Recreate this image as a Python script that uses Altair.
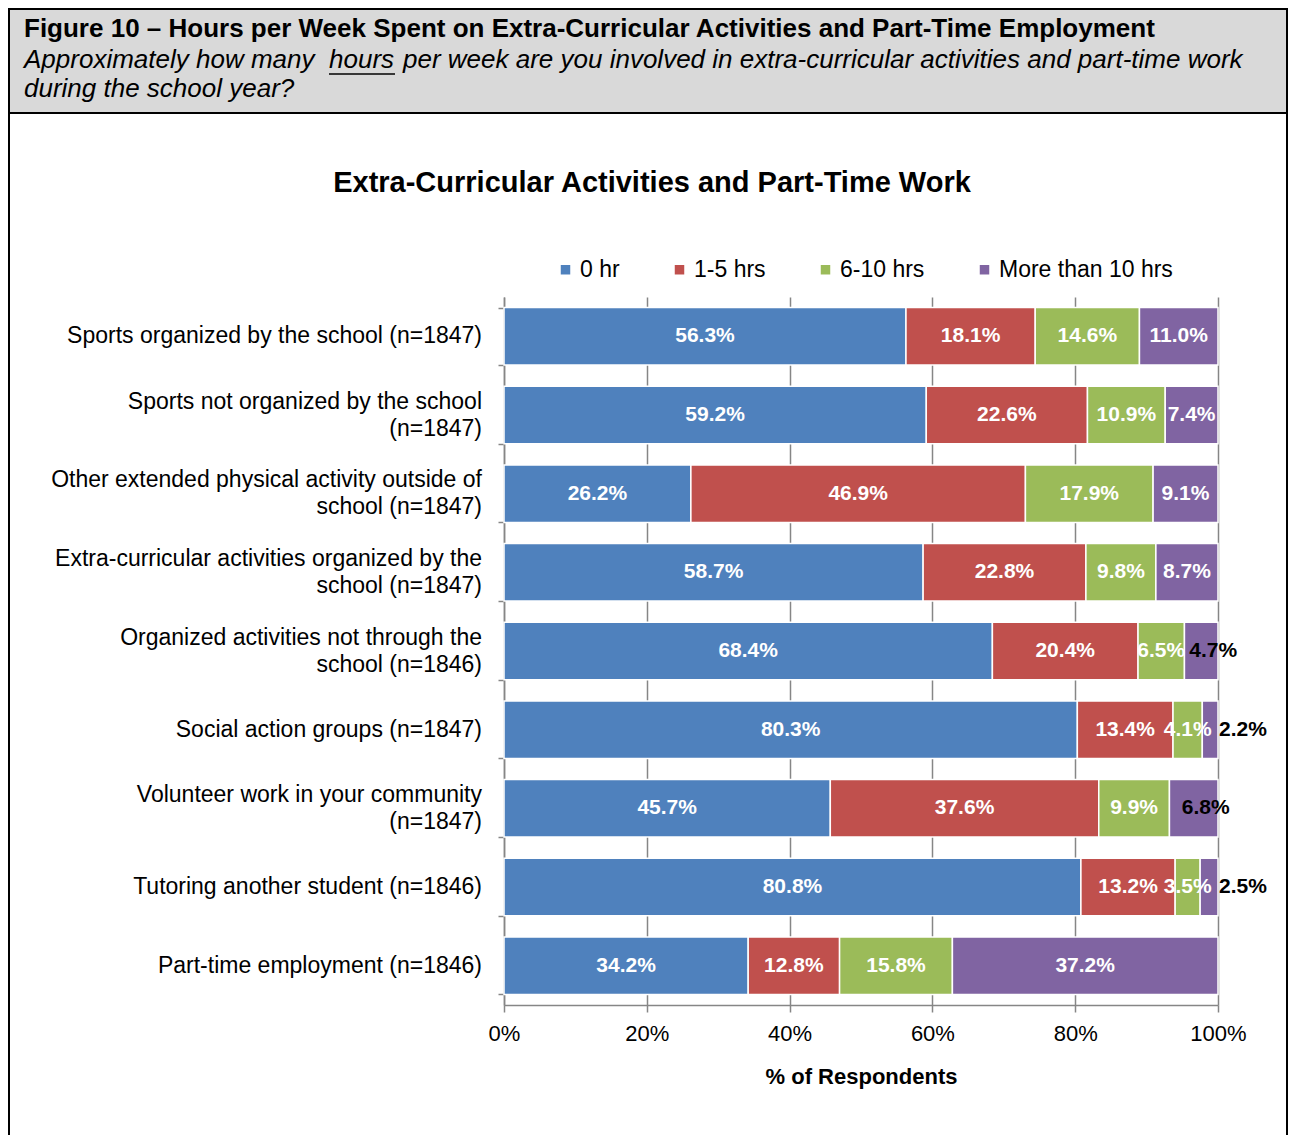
import altair as alt
import pandas as pd

# ---------------- data ----------------
categories = [
    "Sports organized by the school (n=1847)",
    "Sports not organized by the school|(n=1847)",
    "Other extended physical activity outside of|school (n=1847)",
    "Extra-curricular activities organized by the|school (n=1847)",
    "Organized activities not through the|school (n=1846)",
    "Social action groups (n=1847)",
    "Volunteer work in your community|(n=1847)",
    "Tutoring another student (n=1846)",
    "Part-time employment (n=1846)",
]
series = ["0 hr", "1-5 hrs", "6-10 hrs", "More than 10 hrs"]
zero_hr = [56.3, 59.2, 26.2, 58.7, 68.4, 80.3, 45.7, 80.8, 34.2]
one_five = [18.1, 22.6, 46.9, 22.8, 20.4, 13.4, 37.6, 13.2, 12.8]
six_ten = [14.6, 10.9, 17.9, 9.8, 6.5, 4.1, 9.9, 3.5, 15.8]
more_ten = [11.0, 7.4, 9.1, 8.7, 4.7, 2.2, 6.8, 2.5, 37.2]
colors = ["#4F81BD", "#C0504D", "#9BBB59", "#8064A2"]

values = [zero_hr, one_five, six_ten, more_ten]

rows = []
for ci, cat in enumerate(categories):
    total = sum(v[ci] for v in values)
    cum = 0.0
    for si, s in enumerate(series):
        v = values[si][ci]
        start = cum / total
        cum += v
        end = cum / total
        if si == 3 and v < 3:
            kind = "end"
        elif si == 3 and v < 7:
            kind = "dark"
        else:
            kind = "in"
        rows.append({"cat": cat, "series": s, "order": si, "value": v,
                     "mid": (start + end) / 2, "end": end,
                     "label": f"{v:.1f}%", "kind": kind})
df = pd.DataFrame(rows)
cat_df = pd.DataFrame({"cat": categories,
                       "lines": [c.count("|") + 1 for c in categories]})

FONT = "Liberation Sans"
XTITLE = "% of Respondents"

# --------------- decorations ---------------
one = pd.DataFrame({"a": [0]})
header_box = alt.Chart(one).mark_rect(fill="#D9D9D9", stroke="black", strokeWidth=2).encode(
    x=alt.value(-495), x2=alt.value(783), y=alt.value(-288), y2=alt.value(-184))
outer_box = alt.Chart(one).mark_rect(fill=None, fillOpacity=0, stroke="black", strokeWidth=2).encode(
    x=alt.value(-495), x2=alt.value(783), y=alt.value(-184), y2=alt.value(870))


def txt(s, x, y, size, weight="normal", style="normal", align="left"):
    return alt.Chart(pd.DataFrame({"t": [s]})).mark_text(
        align=align, baseline="middle", fontSize=size, fontWeight=weight,
        fontStyle=style, font=FONT, color="black").encode(
        text="t:N", x=alt.value(x), y=alt.value(y))


fig_title = txt("Figure 10 \u2013 Hours per Week Spent on Extra-Curricular Activities and Part-Time Employment",
                -480, -268, 26, weight="bold")
sub1a = txt("Approximately how many", -480, -237, 26, style="italic")
sub1b = txt("hours", -175, -237, 26, style="italic")
sub1c = txt("per week are you involved in extra-curricular activities and part-time work", -101, -237, 26, style="italic")
sub2 = txt("during the school year?", -480, -208, 26, style="italic")
underline = alt.Chart(one).mark_rule(color="black", strokeWidth=1.5).encode(
    x=alt.value(-175), x2=alt.value(-109), y=alt.value(-223))
chart_title = txt("Extra-Curricular Activities and Part-Time Work", 148, -114, 29,
                  weight="bold", align="center")

# --------------- chart ---------------
y_axis = alt.Axis(labels=False, ticks=True, tickBand="extent", tickSize=6,
                  tickColor="#868686", tickWidth=1.5,
                  domainColor="#868686", domainWidth=1.5)
y_scale = alt.Scale(paddingInner=0.27, paddingOuter=0.135)

x_axis = alt.Axis(format=".0%", values=[0, 0.2, 0.4, 0.6, 0.8, 1.0],
                  labelFontSize=22, labelPadding=11, labelColor="black",
                  labelFlush=False,
                  tickColor="#868686", tickSize=7, tickWidth=1.5,
                  domainColor="#868686", domainWidth=1.5,
                  grid=True, gridColor="#868686", gridWidth=1.5,
                  titleFontSize=22, titleFontWeight="bold", titlePadding=22,
                  titleColor="black", labelFont=FONT, titleFont=FONT)
x_scale = alt.Scale(domain=[0, 1], nice=False)

bars = alt.Chart(df).mark_bar(stroke="white", strokeWidth=1.5).encode(
    x=alt.X("value:Q", stack="normalize", title=XTITLE, scale=x_scale, axis=x_axis),
    y=alt.Y("cat:N", sort=categories, title=None, scale=y_scale, axis=y_axis),
    color=alt.Color("series:N", sort=series,
                    scale=alt.Scale(domain=series, range=colors),
                    legend=alt.Legend(orient="none", legendX=50, legendY=-39,
                                      direction="horizontal", title=None,
                                      symbolType="square", symbolSize=90,
                                      symbolStrokeWidth=0, labelFontSize=23,
                                      labelOffset=3, columnPadding=48, labelLimit=0,
                                      labelColor="black", labelFont=FONT)),
    order=alt.Order("order:Q"),
)


def labels(kind, field, color, align, dx):
    return alt.Chart(df).transform_filter(f"datum.kind == '{kind}'").mark_text(
        color=color, fontSize=21, fontWeight="bold", font=FONT, align=align,
        baseline="middle", dx=dx).encode(
        x=alt.X(f"{field}:Q", title=XTITLE),
        y=alt.Y("cat:N", sort=categories, title=None),
        text="label:N")


lab_in = labels("in", "mid", "white", "center", 0)
lab_dark = labels("dark", "mid", "black", "center", 12)
lab_end = labels("end", "end", "black", "left", 1)


def cat_labels(n, dy):
    return alt.Chart(cat_df).transform_filter(f"datum.lines == {n}").mark_text(
        align="right", baseline="middle", fontSize=23, font=FONT, color="black",
        lineBreak="|", lineHeight=27, dy=dy).encode(
        x=alt.value(-22),
        y=alt.Y("cat:N", sort=categories, title=None),
        text="cat:N")


ylab1 = cat_labels(1, 0)
ylab2 = cat_labels(2, -13.5)

chart = alt.layer(
    header_box, outer_box, fig_title, sub1a, sub1b, sub1c, sub2, underline, chart_title,
    bars, lab_in, lab_dark, lab_end, ylab1, ylab2,
).properties(
    width=714, height=708,
    autosize=alt.AutoSizeParams(type="none"),
    padding={"left": 496, "top": 289, "right": 70, "bottom": 130},
).configure(font=FONT).configure_view(stroke=None)

chart.save("out.html", embed_options={"renderer": "svg", "actions": False})
